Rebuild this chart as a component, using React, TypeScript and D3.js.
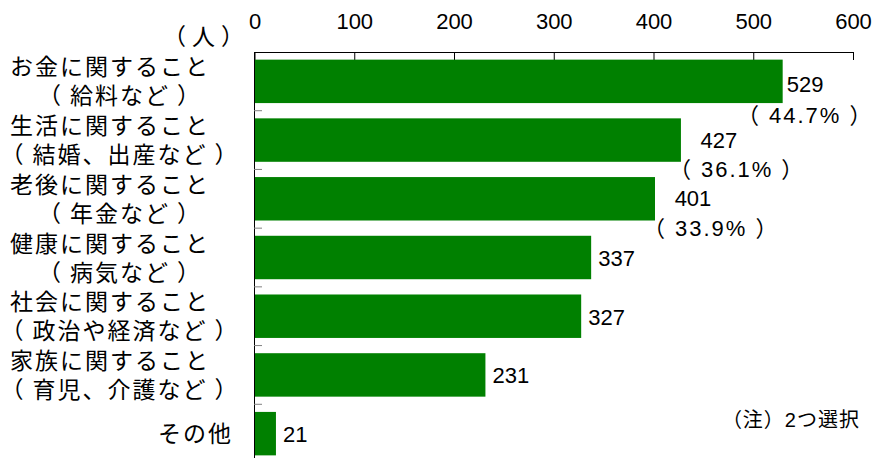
import { scaleBand, scaleLinear } from 'd3';
import React from 'react';

// categories: first line / second line of each label
const labelTop = ['お金に関すること', '生活に関すること', '老後に関すること', '健康に関すること', '社会に関すること', '家族に関すること', 'その他'];
const labelSub = ['（給料など）', '（結婚、出産など）', '（年金など）', '（病気など）', '（政治や経済など）', '（育児、介護など）', ''];
const counts = [529, 427, 401, 337, 327, 231, 21];
const shares = ['44.7%', '36.1%', '33.9%'];
const xTicks = [0, 100, 200, 300, 400, 500, 600];

const W = 875;
const H = 458;
const FONT = '"Liberation Sans", Arial, "Noto Sans CJK JP", sans-serif';
const GREEN = '#008000';

// push fullwidth brackets away from the words they enclose
const spaced = (s: string, g = 6) => {
  let carry = 0;
  return s.split(/([（）])/).filter(Boolean).map((part, k) => {
    let dx = carry;
    carry = 0;
    if (part === '（') {
      dx -= g;
      carry = g;
    } else if (part === '）') {
      dx += g;
      carry = -g;
    }
    return (
      <tspan key={k} dx={dx || undefined}>
        {part}
      </tspan>
    );
  });
};

const App = () => {
  const x = scaleLinear().domain([0, 600]).range([255, 853.5]);
  const y = scaleBand<number>()
    .domain(counts.map((v, i) => i))
    .range([52, 463])
    .paddingInner(0.26)
    .paddingOuter(0.13);
  const step = y.step();
  const bw = y.bandwidth();
  const pctSpan = 112;
  const pctRight = 863;

  return (
    <svg width={W} height={H} style={{ position: 'absolute', left: 0, top: 0 }} fontFamily={FONT}>
      <rect width={W} height={H} fill="#fff" />

      {/* top axis */}
      <line x1={x(0)} x2={x(600)} y1={52.5} y2={52.5} stroke="#000" />
      {xTicks.map((t) => (
        <g key={t}>
          <line x1={x(t)} x2={x(t)} y1={52} y2={60} stroke="#000" />
          <text x={x(t)} y={29} textAnchor="middle" fontSize={22} fill="#000">
            {t}
          </text>
        </g>
      ))}
      <text x={168} y={37} dominantBaseline="central" fontSize={23} letterSpacing={1}>
        {spaced('（人）', 5)}
      </text>

      {/* left axis */}
      <line x1={254.5} x2={254.5} y1={52} y2={H} stroke="#000" />
      {counts.slice(1).map((v, i) => {
        const yy = (y(i + 1) as number) - (step - bw) / 2;
        return <line key={i} x1={254} x2={262} y1={yy} y2={yy} stroke="#808080" />;
      })}

      {counts.map((v, i) => {
        const yc = (y(i) as number) + bw / 2;
        return (
          <g key={i}>
            <rect x={x(0)} y={y(i)} width={x(v) - x(0)} height={bw} fill={GREEN} />
            {labelSub[i] ? (
              <>
                <text x={10} y={yc - 14} dominantBaseline="central" fontSize={23} letterSpacing={2}>
                  {labelTop[i]}
                </text>
                <text x={127} y={yc + 15} textAnchor="middle" dominantBaseline="central" fontSize={23} letterSpacing={2}>
                  {spaced(labelSub[i], 7)}
                </text>
              </>
            ) : (
              <text x={233} y={yc} textAnchor="end" dominantBaseline="central" fontSize={23} letterSpacing={2}>
                {labelTop[i]}
              </text>
            )}
          </g>
        );
      })}

      {/* value labels */}
      {counts.map((v, i) => {
        const yc = (y(i) as number) + bw / 2;
        if (shares[i]) {
          const clamped = x(v) + 2 + pctSpan > pctRight;
          const pStart = (clamped ? pctRight - pctSpan : x(v) + 2) - 6;
          return (
            <g key={i}>
              {clamped ? (
                <text x={x(v) + 4} y={yc + 3} dominantBaseline="central" fontSize={22}>
                  {v}
                </text>
              ) : (
                <text x={pStart + 42} y={yc} textAnchor="middle" dominantBaseline="central" fontSize={22}>
                  {v}
                </text>
              )}
              <text x={pStart} y={yc + (clamped ? 34 : 29)} dominantBaseline="central" fontSize={22} letterSpacing={2}>
                {spaced('（' + shares[i] + '）', 8)}
              </text>
            </g>
          );
        }
        return (
          <text key={i} x={x(v) + 7} y={yc + 1} dominantBaseline="central" fontSize={22}>
            {v}
          </text>
        );
      })}

      <text x={860} y={420} textAnchor="end" dominantBaseline="central" fontSize={20} letterSpacing={1}>
        （注）2つ選択
      </text>
    </svg>
  );
};

export default App;
